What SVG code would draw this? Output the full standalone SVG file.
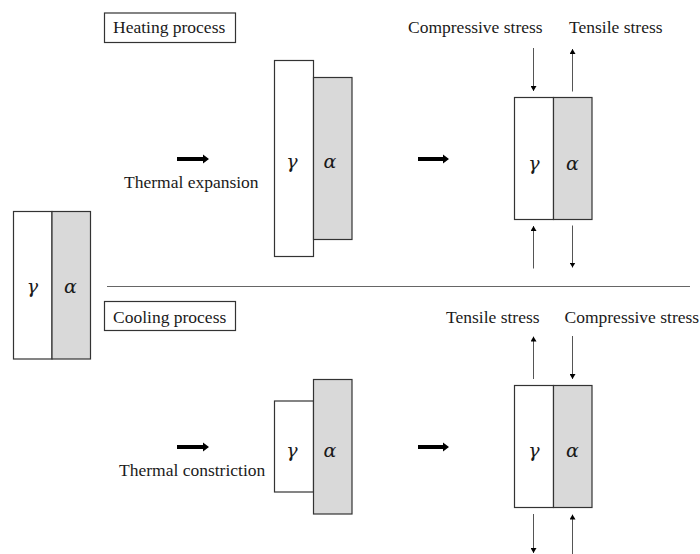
<svg xmlns="http://www.w3.org/2000/svg" width="700" height="554" viewBox="0 0 700 554">
  <defs>
    <style>
      .lbl { font-family: "Liberation Serif", "Times New Roman", serif; font-size: 17.5px; fill: #1a1a1a; }
      .greek { font-family: "DejaVu Serif", "Liberation Serif", serif; font-size: 19px; font-style: italic; fill: #1a1a1a; text-anchor: middle; }
      .gam { fill: #ffffff; stroke: #333333; stroke-width: 1.2; }
      .alp { fill: #d9d9d9; stroke: #333333; stroke-width: 1.2; }
      .tag { fill: #ffffff; stroke: #333333; stroke-width: 1.2; }
      .force { stroke: #555555; stroke-width: 1; fill: none; marker-end: url(#tip); }
      .step { fill: #000000; }
    </style>
    <marker id="tip" markerWidth="5" markerHeight="6" refX="5" refY="3" orient="auto" markerUnits="userSpaceOnUse">
      <path d="M0,0 L5,3 L0,6 Z" fill="#000000"/>
    </marker>
  </defs>

  <rect width="700" height="554" fill="#ffffff"/>

  <!-- initial two-phase bar -->
  <g id="initial">
    <rect class="gam" x="13.5" y="211.5" width="38.5" height="147.5"/>
    <rect class="alp" x="52" y="211.5" width="38.5" height="147.5"/>
    <text class="greek" x="32.5" y="293">γ</text>
    <text class="greek" x="70.5" y="293">α</text>
  </g>

  <!-- section divider -->
  <line x1="107" y1="286.5" x2="690" y2="286.5" stroke="#666666" stroke-width="1.2"/>

  <!-- heating branch -->
  <g id="heating-title">
    <rect class="tag" x="104.5" y="13" width="131" height="29.5"/>
    <text class="lbl" x="113" y="33">Heating process</text>
  </g>

  <g id="heating-expanded">
    <rect class="gam" x="274.5" y="60.5" width="39" height="196"/>
    <rect class="alp" x="313.5" y="77.5" width="38.5" height="162"/>
    <text class="greek" x="292" y="168">γ</text>
    <text class="greek" x="330" y="168">α</text>
  </g>

  <g id="heating-stressed">
    <rect class="gam" x="514.5" y="97.5" width="39" height="122"/>
    <rect class="alp" x="553.5" y="97.5" width="38.5" height="122"/>
    <text class="greek" x="534" y="170">γ</text>
    <text class="greek" x="572.5" y="170">α</text>
    <text class="lbl" x="408" y="33">Compressive stress</text>
    <text class="lbl" x="569" y="33">Tensile stress</text>
  </g>

  <g id="heating-step-label">
    <text class="lbl" x="124" y="188">Thermal expansion</text>
  </g>

  <!-- cooling branch -->
  <g id="cooling-title">
    <rect class="tag" x="104.5" y="301.5" width="131" height="29"/>
    <text class="lbl" x="113" y="322.5">Cooling process</text>
  </g>

  <g id="cooling-contracted">
    <rect class="gam" x="274.5" y="401" width="39" height="91"/>
    <rect class="alp" x="313.5" y="379.5" width="38.5" height="134.5"/>
    <text class="greek" x="292" y="457">γ</text>
    <text class="greek" x="330" y="457">α</text>
  </g>

  <g id="cooling-stressed">
    <rect class="gam" x="514.5" y="385.5" width="39" height="122"/>
    <rect class="alp" x="553.5" y="385.5" width="38.5" height="122"/>
    <text class="greek" x="534" y="457">γ</text>
    <text class="greek" x="572.5" y="457">α</text>
    <text class="lbl" x="446" y="322.5">Tensile stress</text>
    <text class="lbl" x="564.5" y="322.5">Compressive stress</text>
  </g>

  <g id="cooling-step-label">
    <text class="lbl" x="119" y="476">Thermal constriction</text>
  </g>

  <!-- connectors: process steps and stress arrows -->
  <g id="connectors">
    <path class="step" d="M177,157 L203,157 L203,154.5 L209,159 L203,163.5 L203,161 L177,161 Z"/>
    <path class="step" d="M418,157 L443,157 L443,154.5 L449,159 L443,163.5 L443,161 L418,161 Z"/>
    <path class="step" d="M177,445 L203,445 L203,442.5 L209,447 L203,451.5 L203,449 L177,449 Z"/>
    <path class="step" d="M418,445 L443,445 L443,442.5 L449,447 L443,451.5 L443,449 L418,449 Z"/>

    <line class="force" x1="533.5" y1="48" x2="533.5" y2="91"/>
    <line class="force" x1="572.5" y1="91.5" x2="572.5" y2="49"/>
    <line class="force" x1="533.5" y1="268.5" x2="533.5" y2="226"/>
    <line class="force" x1="572.5" y1="225.5" x2="572.5" y2="267.5"/>

    <line class="force" x1="533.5" y1="379" x2="533.5" y2="336.5"/>
    <line class="force" x1="572.5" y1="336" x2="572.5" y2="379"/>
    <line class="force" x1="533.5" y1="514" x2="533.5" y2="553"/>
    <line class="force" x1="572.5" y1="554" x2="572.5" y2="514.5"/>
  </g>
</svg>
